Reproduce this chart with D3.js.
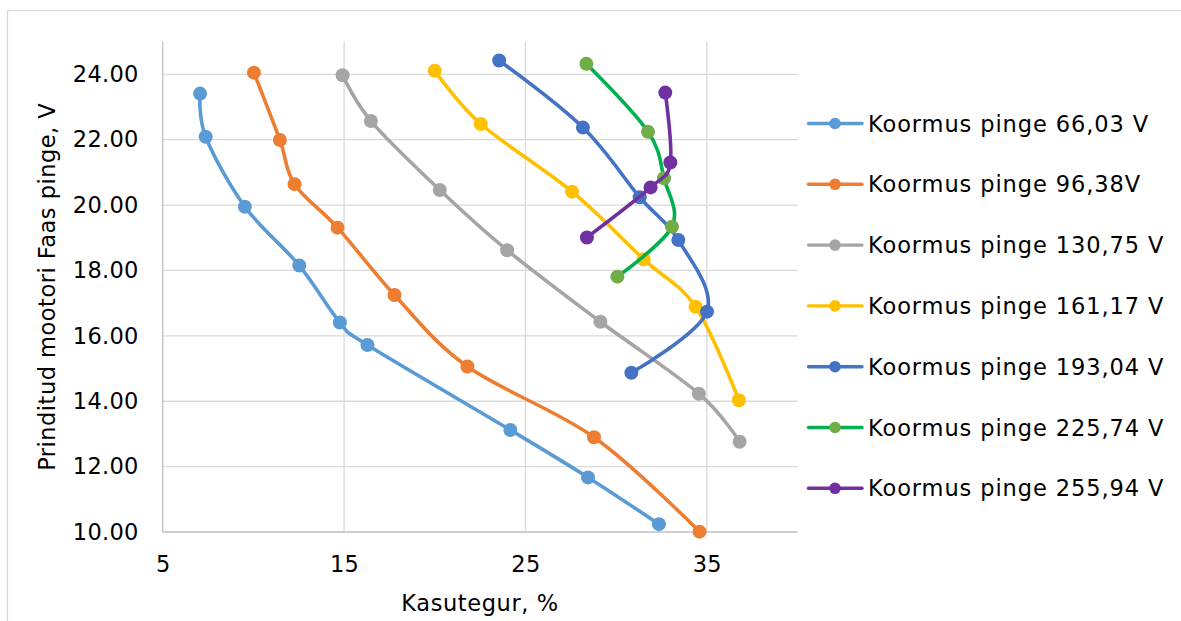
<!DOCTYPE html>
<html>
<head>
<meta charset="utf-8">
<script src="https://cdn.jsdelivr.net/npm/d3@7"></script>
<style>
  html, body { margin: 0; padding: 0; background: #fff; }
  svg { display: block; }
  text { font-family: "DejaVu Sans", Verdana, sans-serif; fill: #000; }
</style>
</head>
<body>
<script>
// Series names (load voltage)
const seriesNames = [
  "Koormus pinge 66,03 V",
  "Koormus pinge 96,38V",
  "Koormus pinge 130,75 V",
  "Koormus pinge 161,17 V",
  "Koormus pinge 193,04 V",
  "Koormus pinge 225,74 V",
  "Koormus pinge 255,94 V"
];

// Efficiency, % (x) and printed motor phase voltage, V (y) for each series
const eff66 = [7.06, 7.37, 9.53, 12.53, 14.77, 16.29, 24.17, 28.45, 32.36];
const volt66 = [23.41, 22.09, 19.95, 18.15, 16.41, 15.72, 13.12, 11.67, 10.24];

const eff96 = [10.03, 11.46, 12.27, 14.64, 17.78, 21.80, 28.78, 34.60];
const volt96 = [24.05, 21.99, 20.64, 19.31, 17.25, 15.06, 12.90, 10.01];

const eff130 = [14.92, 16.48, 20.28, 23.99, 29.13, 34.56, 36.81];
const volt130 = [23.97, 22.57, 20.46, 18.62, 16.43, 14.23, 12.76];

const eff161 = [20.00, 22.54, 27.57, 31.52, 34.38, 36.77];
const volt161 = [24.11, 22.48, 20.41, 18.34, 16.89, 14.03];

const eff193 = [23.55, 28.17, 31.30, 33.43, 35.01, 30.84];
const volt193 = [24.42, 22.37, 20.24, 18.93, 16.74, 14.87];

const eff225 = [28.36, 31.76, 32.64, 33.08, 30.07];
const volt225 = [24.32, 22.24, 20.82, 19.34, 17.81];

const eff255 = [32.71, 32.99, 31.90, 28.39];
const volt255 = [23.44, 21.30, 20.54, 19.01];

// Axis ticks
const xTicks = [5, 15, 25, 35];
const yTicks = [10, 12, 14, 16, 18, 20, 22, 24];

const lineColors = ["#5B9BD5", "#ED7D31", "#A5A5A5", "#FFC000", "#4472C4", "#00B050", "#7030A0"];
const markerColors = ["#5B9BD5", "#ED7D31", "#A5A5A5", "#FFC000", "#4472C4", "#70AD47", "#7030A0"];

const effs = [eff66, eff96, eff130, eff161, eff193, eff225, eff255];
const volts = [volt66, volt96, volt130, volt161, volt193, volt225, volt255];
const series = seriesNames.map((name, i) => ({
  name,
  line: lineColors[i],
  marker: markerColors[i],
  points: effs[i].map((x, j) => ({ x, y: volts[i][j] }))
}));

const W = 1181, H = 621;
const plot = { left: 162.7, right: 797.5, top: 41.6, bottom: 532 };

const svg = d3.select("body").append("svg").attr("width", W).attr("height", H);

// Chart area border
svg.append("rect")
  .attr("x", 7.5).attr("y", 10.5)
  .attr("width", 1200).attr("height", 700)
  .attr("fill", "#fff").attr("stroke", "#D9D9D9").attr("stroke-width", 1.3);

const x = d3.scaleLinear().domain([5, 40]).range([plot.left, plot.right]);
const y = d3.scaleLinear().domain([10, 25]).range([plot.bottom, plot.top]);

// Gridlines
const grid = svg.append("g").attr("stroke", "#D9D9D9").attr("stroke-width", 1.3);
grid.selectAll("line.h").data(yTicks.filter(t => t > 10)).join("line")
  .attr("x1", plot.left).attr("x2", plot.right)
  .attr("y1", d => y(d)).attr("y2", d => y(d));
grid.selectAll("line.v").data(xTicks.filter(t => t > 5)).join("line")
  .attr("y1", plot.top).attr("y2", plot.bottom)
  .attr("x1", d => x(d)).attr("x2", d => x(d));

// Axes
const xAxis = d3.axisBottom(x).tickValues(xTicks).tickSize(0).tickPadding(24)
  .tickFormat(d3.format("d"));
const yAxis = d3.axisLeft(y).tickValues(yTicks).tickSize(0).tickPadding(24)
  .tickFormat(d3.format(".2f"));

const gx = svg.append("g").attr("transform", `translate(0,${plot.bottom})`).call(xAxis);
const gy = svg.append("g").attr("transform", `translate(${plot.left},0)`).call(yAxis);
[gx, gy].forEach(g => {
  g.select(".domain").attr("stroke", "#BFBFBF").attr("stroke-width", 1.3);
  g.selectAll("text").style("font-family", "'DejaVu Sans', Verdana, sans-serif")
    .style("font-size", "22.5px").style("letter-spacing", "0.3px").attr("fill", "#000");
});
gy.select(".domain").attr("d", `M0,${plot.top}V${plot.bottom}`);
gx.select(".domain").attr("d", `M${plot.left},0H${plot.right}`);

// Axis titles
svg.append("text")
  .attr("x", (plot.left + plot.right) / 2).attr("y", 611)
  .attr("text-anchor", "middle").style("font-size", "22.5px").style("letter-spacing", "0.6px")
  .text("Kasutegur, %");
svg.append("text")
  .attr("transform", `translate(55,${(plot.top + plot.bottom) / 2}) rotate(-90)`)
  .attr("text-anchor", "middle").style("font-size", "22.5px").style("letter-spacing", "0.5px")
  .text("Prinditud mootori Faas pinge, V");

// Smoothed series lines with markers
const line = d3.line().x(d => x(d.x)).y(d => y(d.y)).curve(d3.curveCatmullRom.alpha(0));
const sg = svg.append("g").selectAll("g").data(series).join("g");
sg.append("path")
  .attr("d", d => line(d.points))
  .attr("fill", "none").attr("stroke", d => d.line)
  .attr("stroke-width", 3.6).attr("stroke-linejoin", "round").attr("stroke-linecap", "round");
sg.each(function(s) {
  d3.select(this).selectAll("circle").data(s.points).join("circle")
    .attr("cx", d => x(d.x)).attr("cy", d => y(d.y)).attr("r", 7)
    .attr("fill", s.marker);
});

// Legend
const legend = svg.append("g");
const rowY = i => 123.5 + i * 60.8;
const items = legend.selectAll("g").data(series).join("g")
  .attr("transform", (d, i) => `translate(0,${rowY(i)})`);
items.append("line")
  .attr("x1", 808.5).attr("x2", 862).attr("y1", 0).attr("y2", 0)
  .attr("stroke", d => d.line).attr("stroke-width", 3.4).attr("stroke-linecap", "round");
items.append("circle").attr("cx", 835).attr("cy", 0).attr("r", 5.8).attr("fill", d => d.marker);
items.append("text")
  .attr("x", 868).attr("y", 0).attr("dy", "0.36em")
  .style("font-size", "22.5px").style("letter-spacing", "0.9px")
  .text(d => d.name);
</script>
</body>
</html>
